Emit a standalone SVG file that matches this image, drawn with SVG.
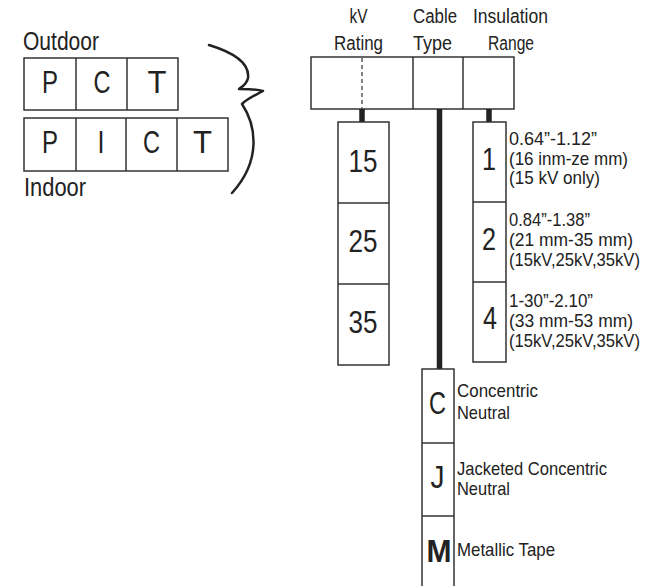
<svg xmlns="http://www.w3.org/2000/svg" width="656" height="586" viewBox="0 0 656 586">
<style>
text{font-family:"Liberation Sans",Arial,sans-serif;fill:#222}
.big{font-size:31px}
.hd{font-size:20px}
.lb{font-size:19px}
.sm{font-size:18px}
.box{fill:#fff;stroke:#333;stroke-width:1.5}
.ln{stroke:#333;stroke-width:1.5;fill:none}
.stem{stroke:#222;stroke-width:5.5;fill:none}
</style>
<rect width="656" height="586" fill="#fff"/>
<g id="outdoor">
<text x="23" y="50" style="font-size:25px" textLength="76" lengthAdjust="spacingAndGlyphs">Outdoor</text>
<rect class="box" x="24" y="58" width="154" height="52"/>
<line class="ln" x1="76" y1="58" x2="76" y2="110"/>
<line class="ln" x1="127" y1="58" x2="127" y2="110"/>
<text class="big" x="42" y="93" textLength="16" lengthAdjust="spacingAndGlyphs">P</text>
<text class="big" x="93.5" y="93" textLength="17" lengthAdjust="spacingAndGlyphs">C</text>
<text class="big" x="147.5" y="93" textLength="19" lengthAdjust="spacingAndGlyphs">T</text>
</g>
<g id="indoor">
<rect class="box" x="24" y="118" width="204" height="53"/>
<line class="ln" x1="76" y1="118" x2="76" y2="171"/>
<line class="ln" x1="126" y1="118" x2="126" y2="171"/>
<line class="ln" x1="177" y1="118" x2="177" y2="171"/>
<text class="big" x="42" y="153" textLength="16" lengthAdjust="spacingAndGlyphs">P</text>
<text class="big" x="97.5" y="153" textLength="7" lengthAdjust="spacingAndGlyphs">I</text>
<text class="big" x="143" y="153" textLength="17" lengthAdjust="spacingAndGlyphs">C</text>
<text class="big" x="193" y="153" textLength="19" lengthAdjust="spacingAndGlyphs">T</text>
<text x="24" y="196" style="font-size:25px" textLength="62" lengthAdjust="spacingAndGlyphs">Indoor</text>
</g>
<g id="brace">
<path d="M209,45 C232,52 250,62 248,78 C247,84 242,87 239,89 C248,89 256,89 263,91 C256,95 248,98 242,104 C256,125 262,160 232,193" fill="none" stroke="#222" stroke-width="2.5" stroke-linecap="round" stroke-linejoin="round"/>
</g>
<g id="header">
<text class="hd" x="349.5" y="23" textLength="18" lengthAdjust="spacingAndGlyphs">kV</text>
<text class="hd" x="334" y="50" textLength="49" lengthAdjust="spacingAndGlyphs">Rating</text>
<text class="hd" x="413" y="23" textLength="44" lengthAdjust="spacingAndGlyphs">Cable</text>
<text class="hd" x="413" y="50" textLength="39" lengthAdjust="spacingAndGlyphs">Type</text>
<text class="hd" x="473" y="23" textLength="75" lengthAdjust="spacingAndGlyphs">Insulation</text>
<text class="hd" x="488" y="50" textLength="46" lengthAdjust="spacingAndGlyphs">Range</text>
<rect class="box" x="311" y="57" width="203" height="52"/>
<line class="ln" x1="413" y1="57" x2="413" y2="109"/>
<line class="ln" x1="463" y1="57" x2="463" y2="109"/>
<line x1="362" y1="58" x2="362" y2="108" stroke="#333" stroke-width="1.2" stroke-dasharray="4,3"/>
</g>
<g id="connectors">
<line class="stem" x1="362" y1="109" x2="362" y2="122"/>
<line class="stem" x1="439.5" y1="109" x2="439.5" y2="369"/>
<line class="stem" x1="489" y1="109" x2="489" y2="122"/>
</g>
<g id="kv">
<rect class="box" x="338" y="122" width="51" height="243"/>
<line class="ln" x1="338" y1="203" x2="389" y2="203"/>
<line class="ln" x1="338" y1="284" x2="389" y2="284"/>
<text class="big" x="348.5" y="172" textLength="29" lengthAdjust="spacingAndGlyphs">15</text>
<text class="big" x="348.5" y="252" textLength="29" lengthAdjust="spacingAndGlyphs">25</text>
<text class="big" x="348.5" y="333" textLength="29" lengthAdjust="spacingAndGlyphs">35</text>
</g>
<g id="insulation">
<rect class="box" x="473" y="122" width="33" height="240"/>
<line class="ln" x1="473" y1="202" x2="506" y2="202"/>
<line class="ln" x1="473" y1="282" x2="506" y2="282"/>
<text class="big" x="482" y="170" textLength="14" lengthAdjust="spacingAndGlyphs">1</text>
<text class="big" x="482" y="250" textLength="14" lengthAdjust="spacingAndGlyphs">2</text>
<text class="big" x="483" y="329" textLength="14" lengthAdjust="spacingAndGlyphs">4</text>
<text class="lb" x="509" y="145" textLength="88" lengthAdjust="spacingAndGlyphs">0.64”-1.12”</text>
<text class="lb" x="509" y="164.5" textLength="119" lengthAdjust="spacingAndGlyphs">(16 inm-ze mm)</text>
<text class="lb" x="509" y="184" textLength="91" lengthAdjust="spacingAndGlyphs">(15 kV only)</text>
<text class="lb" x="509" y="226" textLength="81" lengthAdjust="spacingAndGlyphs">0.84”-1.38”</text>
<text class="lb" x="509" y="246" textLength="124" lengthAdjust="spacingAndGlyphs">(21 mm-35 mm)</text>
<text class="sm" x="509" y="266" textLength="131" lengthAdjust="spacingAndGlyphs">(15kV,25kV,35kV)</text>
<text class="lb" x="509" y="307" textLength="84" lengthAdjust="spacingAndGlyphs">1-30”-2.10”</text>
<text class="lb" x="509" y="327" textLength="124" lengthAdjust="spacingAndGlyphs">(33 mm-53 mm)</text>
<text class="sm" x="509" y="347" textLength="131" lengthAdjust="spacingAndGlyphs">(15kV,25kV,35kV)</text>
</g>
<g id="cable">
<path class="ln" d="M422,590 V369 H454 V590"/>
<line class="ln" x1="422" y1="443" x2="454" y2="443"/>
<line class="ln" x1="422" y1="516" x2="454" y2="516"/>
<text class="big" x="429" y="414" textLength="17" lengthAdjust="spacingAndGlyphs">C</text>
<text class="big" x="430.5" y="488" textLength="14" lengthAdjust="spacingAndGlyphs">J</text>
<text class="big" x="426.5" y="562" style="font-weight:bold" textLength="25" lengthAdjust="spacingAndGlyphs">M</text>
<text class="lb" x="457" y="397" textLength="81" lengthAdjust="spacingAndGlyphs">Concentric</text>
<text class="lb" x="457" y="419" textLength="53" lengthAdjust="spacingAndGlyphs">Neutral</text>
<text class="lb" x="457" y="475" textLength="150" lengthAdjust="spacingAndGlyphs">Jacketed Concentric</text>
<text class="lb" x="457" y="495" textLength="53" lengthAdjust="spacingAndGlyphs">Neutral</text>
<text class="lb" x="457" y="556" textLength="98" lengthAdjust="spacingAndGlyphs">Metallic Tape</text>
</g>
</svg>
